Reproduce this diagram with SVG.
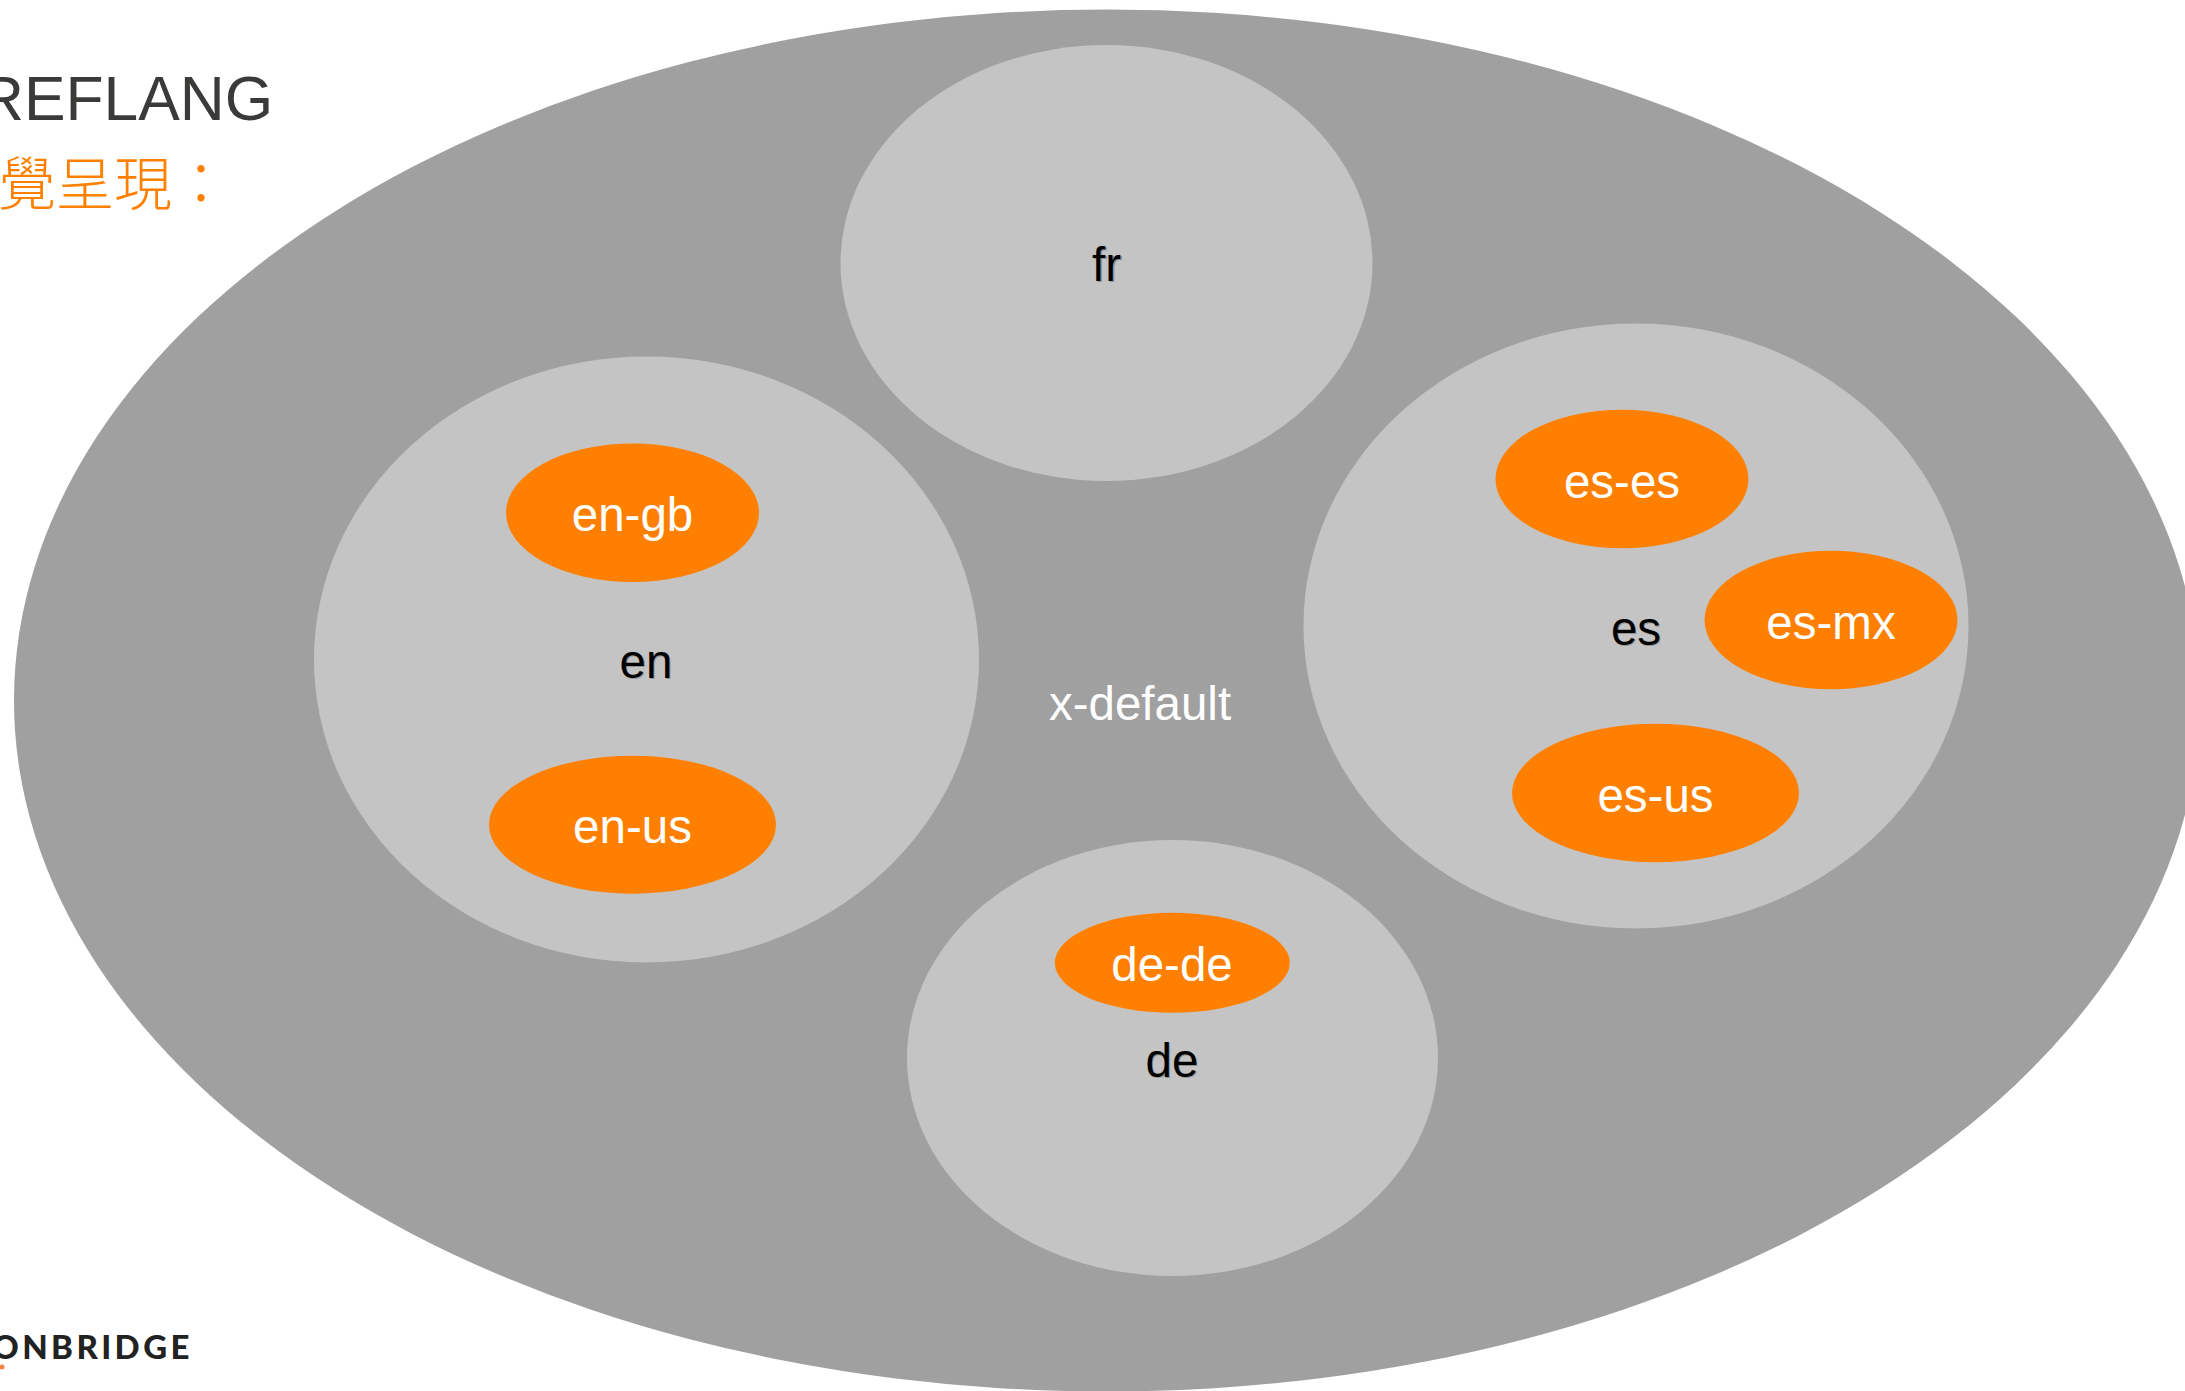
<svg xmlns="http://www.w3.org/2000/svg" width="2185" height="1391" viewBox="0 0 2185 1391">
<style>
.outer{fill:#a0a0a0}.lang{fill:#c4c4c4}.region{fill:#ff8000}
text{font-family:"Liberation Sans",Arial,sans-serif;text-anchor:middle;font-size:47.500px}
.k{fill:#000}.w{fill:#fff}
.shadow{fill:#000;opacity:.25}
</style>
<rect width="2185" height="1391" fill="#fff"/>
<g id="x-default"><ellipse class="outer" cx="1107" cy="700.500" rx="1093" ry="691"/><text class="w" x="1140" y="719.500">x-default</text></g>
<g id="title"><text x="-21" y="120" style="text-anchor:start;font-size:62.300px;fill:#3a3a38">REFLANG</text>
<text x="-2" y="205" style="text-anchor:start;font-size:58px;fill:#ff8000;font-family:'Noto Sans CJK TC',sans-serif;font-weight:300">覺呈現：</text></g>
<g id="logo"><text x="-8" y="1359" style="text-anchor:start;font-family:Lato,sans-serif;font-weight:900;font-size:33px;letter-spacing:3.400px;fill:#222">ONBRIDGE</text><circle cx="2" cy="1367" r="2.500" fill="#f58345"/></g>
<g id="fr"><ellipse class="lang" cx="1106.500" cy="263" rx="266" ry="218"/><text class="shadow" x="1108" y="281.500">fr</text><text class="k" x="1106.500" y="280.500">fr</text></g>
<g id="en"><ellipse class="lang" cx="646.500" cy="659.500" rx="332.500" ry="303"/><text class="shadow" x="647" y="678.500">en</text><text class="k" x="646" y="677.500">en</text></g>
<g id="es"><ellipse class="lang" cx="1636" cy="626" rx="332.500" ry="302.500"/><text class="shadow" x="1637" y="645.500">es</text><text class="k" x="1636" y="644.500">es</text></g>
<g id="de"><ellipse class="lang" cx="1172.500" cy="1058" rx="265.500" ry="218"/><text class="shadow" x="1173" y="1077.500">de</text><text class="k" x="1172" y="1076.500">de</text></g>
<g id="en-gb"><ellipse class="region" cx="632.500" cy="512.700" rx="126.500" ry="69.300"/><text class="w" x="632.500" y="530.500">en-gb</text></g>
<g id="en-us"><ellipse class="region" cx="632.500" cy="824.700" rx="143.500" ry="69"/><text class="w" x="632.500" y="842.500">en-us</text></g>
<g id="es-es"><ellipse class="region" cx="1622" cy="479" rx="126.500" ry="69.300"/><text class="w" x="1622" y="497.500">es-es</text></g>
<g id="es-mx"><ellipse class="region" cx="1831" cy="620" rx="126.500" ry="69.300"/><text class="w" x="1831" y="638.500">es-mx</text></g>
<g id="es-us"><ellipse class="region" cx="1655.500" cy="793" rx="143.500" ry="69.300"/><text class="w" x="1655.500" y="811.500">es-us</text></g>
<g id="de-de"><ellipse class="region" cx="1172.300" cy="962.800" rx="117.500" ry="50"/><text class="w" x="1172" y="980.500">de-de</text></g>
<g id="connectors"/>
</svg>
